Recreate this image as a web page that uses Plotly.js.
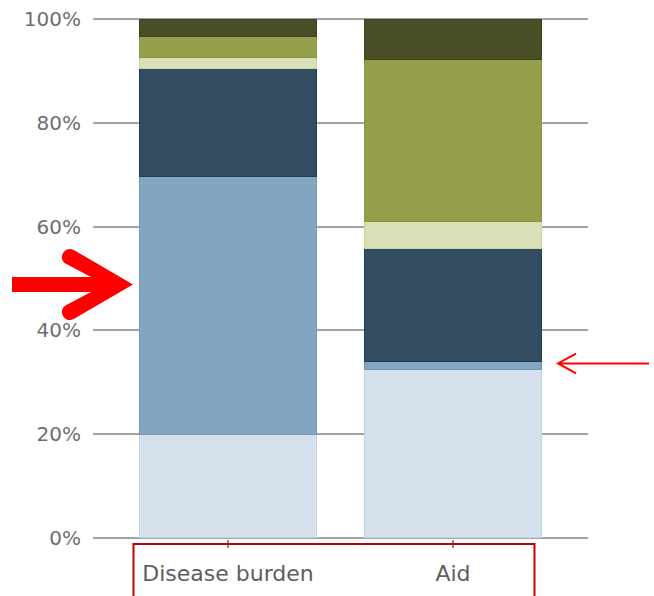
<!DOCTYPE html>
<html>
<head>
<meta charset="utf-8">
<script src="https://cdn.plot.ly/plotly-3.0.1.min.js"></script>
<style>
  html, body { margin: 0; padding: 0; background: #ffffff; }
  #chart { width: 654px; height: 596px; }
</style>
</head>
<body>
<div id="chart"></div>
<script>
// Share of each segment, stacked bottom to top, in percent.
const categories = ['Disease burden', 'Aid'];
const segment1 = [20.0, 32.4];
const segment2 = [49.6, 1.5];
const segment3 = [21.0, 21.9];
const segment4 = [2.1, 5.1];
const segment5 = [3.9, 31.3];
const segment6 = [3.4, 7.8];
const yTickValues = [0, 20, 40, 60, 80, 100];
const yTickLabels = ['0%', '20%', '40%', '60%', '80%', '100%'];

const series = [
  { y: segment1, fill: '#d4e1ec', edge: '#c3d5e3' },
  { y: segment2, fill: '#82a6bf', edge: '#7299b4' },
  { y: segment3, fill: '#324d62', edge: '#223c52' },
  { y: segment4, fill: '#d9e0b7', edge: '#cbd4a2' },
  { y: segment5, fill: '#959e4b', edge: '#89933c' },
  { y: segment6, fill: '#4a4e26', edge: '#3d411c' }
];

const traces = series.map(s => ({
  type: 'bar',
  x: categories,
  y: s.y,
  marker: { color: s.fill, line: { color: s.edge, width: 1 } },
  hoverinfo: 'skip'
}));

// Plot area in page pixels, used to place the pointer arrows and frame.
// The value range is padded a little so the 0% and 100% grid lines are drawn.
const W = 654, H = 596;
const yMin = -0.25, yMax = 100.25;
const margin = { l: 93, r: 66, t: 18, b: 57 };
const plotW = W - margin.l - margin.r;
const plotH = H - margin.t - margin.b;
const px = x => ((x - margin.l) / plotW).toFixed(4);
const py = y => ((H - margin.b - y) / plotH).toFixed(4);
const P = (x, y) => px(x) + ',' + py(y);

// Thick right-pointing arrow with rounded arm ends
const bigArrow =
  'M' + P(12, 277) + ' L' + P(91, 277) + ' L' + P(66.3, 264.1) +
  ' C' + P(56.8, 259.2) + ' ' + P(64.2, 245) + ' ' + P(73.7, 249.9) +
  ' L' + P(133, 284.5) + ' L' + P(73.7, 319.1) +
  ' C' + P(64.2, 324) + ' ' + P(56.8, 309.8) + ' ' + P(66.3, 304.9) +
  ' L' + P(91, 292) + ' L' + P(12, 292) + ' Z';

// Thin left-pointing arrow
const thinArrow =
  'M' + P(649, 363.5) + ' L' + P(558, 363.5) +
  ' M' + P(576, 353.5) + ' L' + P(558, 363.5) + ' L' + P(576, 373.5);

const layout = {
  width: W,
  height: H,
  margin: margin,
  paper_bgcolor: '#ffffff',
  plot_bgcolor: '#ffffff',
  barmode: 'stack',
  bargap: 0.21,
  showlegend: false,
  font: { family: 'DejaVu Sans, sans-serif', color: '#6e6e6e' },
  xaxis: {
    type: 'category',
    range: [-0.6, 1.6],
    showgrid: false,
    zeroline: false,
    showline: false,
    ticks: 'outside',
    ticklen: 8,
    tickwidth: 1.5,
    tickcolor: '#8a8a8a',
    ticklabelstandoff: 7,
    tickfont: { family: 'DejaVu Sans, sans-serif', size: 22, color: '#5e5e5e' }
  },
  yaxis: {
    range: [yMin, yMax],
    tickmode: 'array',
    tickvals: yTickValues,
    ticktext: yTickLabels,
    showgrid: true,
    gridcolor: '#a3a3a3',
    gridwidth: 2,
    zeroline: false,
    showline: false,
    ticks: '',
    ticklabelstandoff: 11,
    tickfont: { family: 'DejaVu Sans, sans-serif', size: 20, color: '#6e6e6e' }
  },
  shapes: [
    {
      type: 'rect', xref: 'paper', yref: 'paper',
      x0: px(133.5), x1: px(534.5), y0: py(544), y1: py(610),
      line: { color: '#c00000', width: 2 }, fillcolor: 'rgba(0,0,0,0)'
    },
    {
      type: 'path', xref: 'paper', yref: 'paper', path: bigArrow,
      fillcolor: '#ff0000', line: { width: 0 }
    },
    {
      type: 'path', xref: 'paper', yref: 'paper', path: thinArrow,
      line: { color: '#ff0000', width: 2 }
    }
  ]
};

Plotly.newPlot('chart', traces, layout, { staticPlot: true, displayModeBar: false });
</script>
</body>
</html>
